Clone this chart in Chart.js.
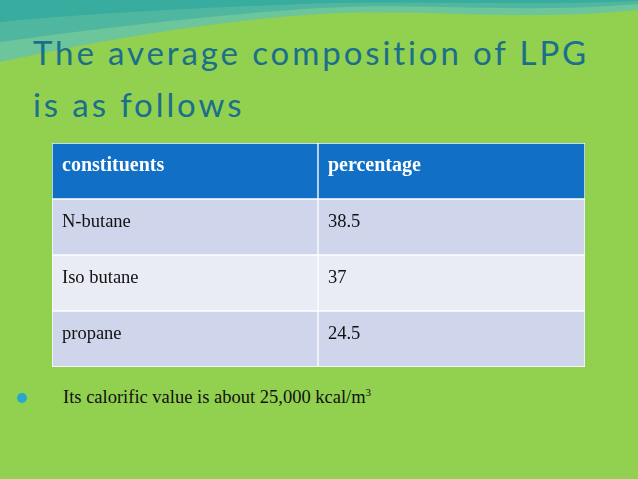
<!DOCTYPE html>
<html><head><meta charset="utf-8">
<script src="https://cdn.jsdelivr.net/npm/chart.js@4"></script>
<style>
html,body{margin:0;padding:0;width:638px;height:479px;overflow:hidden;background:#92D050;}
#wave{position:absolute;left:0;top:0}
#title{position:absolute;left:33px;top:26px;font-family:Lato,'Open Sans',sans-serif;font-size:33px;letter-spacing:2.9px;line-height:52px;color:#1B6F8A;}
#wrap{position:absolute;left:52px;top:143px;width:533px;height:224px;}
#bullet{position:absolute;left:63px;top:386px;font-family:'Liberation Serif',serif;font-size:18.5px;color:#111;}
#dot{position:absolute;left:17px;top:393px;width:10px;height:10px;border-radius:50%;background:#2AA7C9;}
</style></head><body>
<svg id="wave" width="638" height="80">
<path d="M0,0 H638 V10 C520,22 420,8 320,14 C220,20 100,40 0,62 Z" fill="#6CC59B"/>
<path d="M0,0 H638 V4 C520,14 420,2 320,8 C220,14 100,28 0,42 Z" fill="#4FB7A0"/>
<path d="M0,0 H638 V1 C520,6 400,0 300,4 C200,8 80,14 0,22 Z" fill="#38AC9E"/>
</svg>
<div id="title">The average composition of LPG<br>is as follows</div>
<div id="wrap"><canvas id="c"></canvas></div>
<div id="dot"></div>
<div id="bullet">Its calorific value is about 25,000 kcal/m<sup style="font-size:11px">3</sup></div>
<script>
const headers = ['constituents','percentage'];
const constituents = ['N-butane','Iso butane','propane'];
const percentages = ['38.5','37','24.5'];
const rows = [headers[0]].concat(constituents);
const fills = ['#1170C6','#CFD5EA','#E9EBF5','#CFD5EA'];
const tablePlugin = {
  id:'tbl',
  afterDatasetsDraw(chart){
    const ctx=chart.ctx, x=chart.scales.x, y=chart.scales.y;
    rows.forEach((r,i)=>{
      const cy=y.getPixelForValue(i);
      const head=i===0;
      ctx.save();
      ctx.fillStyle=head?'#fff':'#111';
      ctx.font=(head?'bold 20px':'18.5px')+" 'Liberation Serif', serif";
      ctx.textBaseline='middle';
      ctx.fillText(r, x.getPixelForValue(0)+10, cy-5);
      ctx.fillText(head?headers[1]:percentages[i-1], x.getPixelForValue(0.998)+10, cy-5);
      ctx.restore();
    });
  }
};
new Chart(document.getElementById('c'),{
  type:'bar',
  data:{labels:rows,datasets:[
    {data:rows.map(()=>[0,0.998]),backgroundColor:fills,borderColor:'#fff',borderWidth:1,borderSkipped:false},
    {data:rows.map(()=>[0.998,2]),backgroundColor:fills,borderColor:'#fff',borderWidth:1,borderSkipped:false}
  ]},
  options:{indexAxis:'y',responsive:true,maintainAspectRatio:false,animation:false,
    layout:{padding:0},
    datasets:{bar:{barPercentage:1,categoryPercentage:1}},
    plugins:{legend:{display:false},tooltip:{enabled:false}},
    scales:{x:{display:false,min:0,max:2},y:{display:false,stacked:true}}},
  plugins:[tablePlugin]
});
</script>
</body></html>
